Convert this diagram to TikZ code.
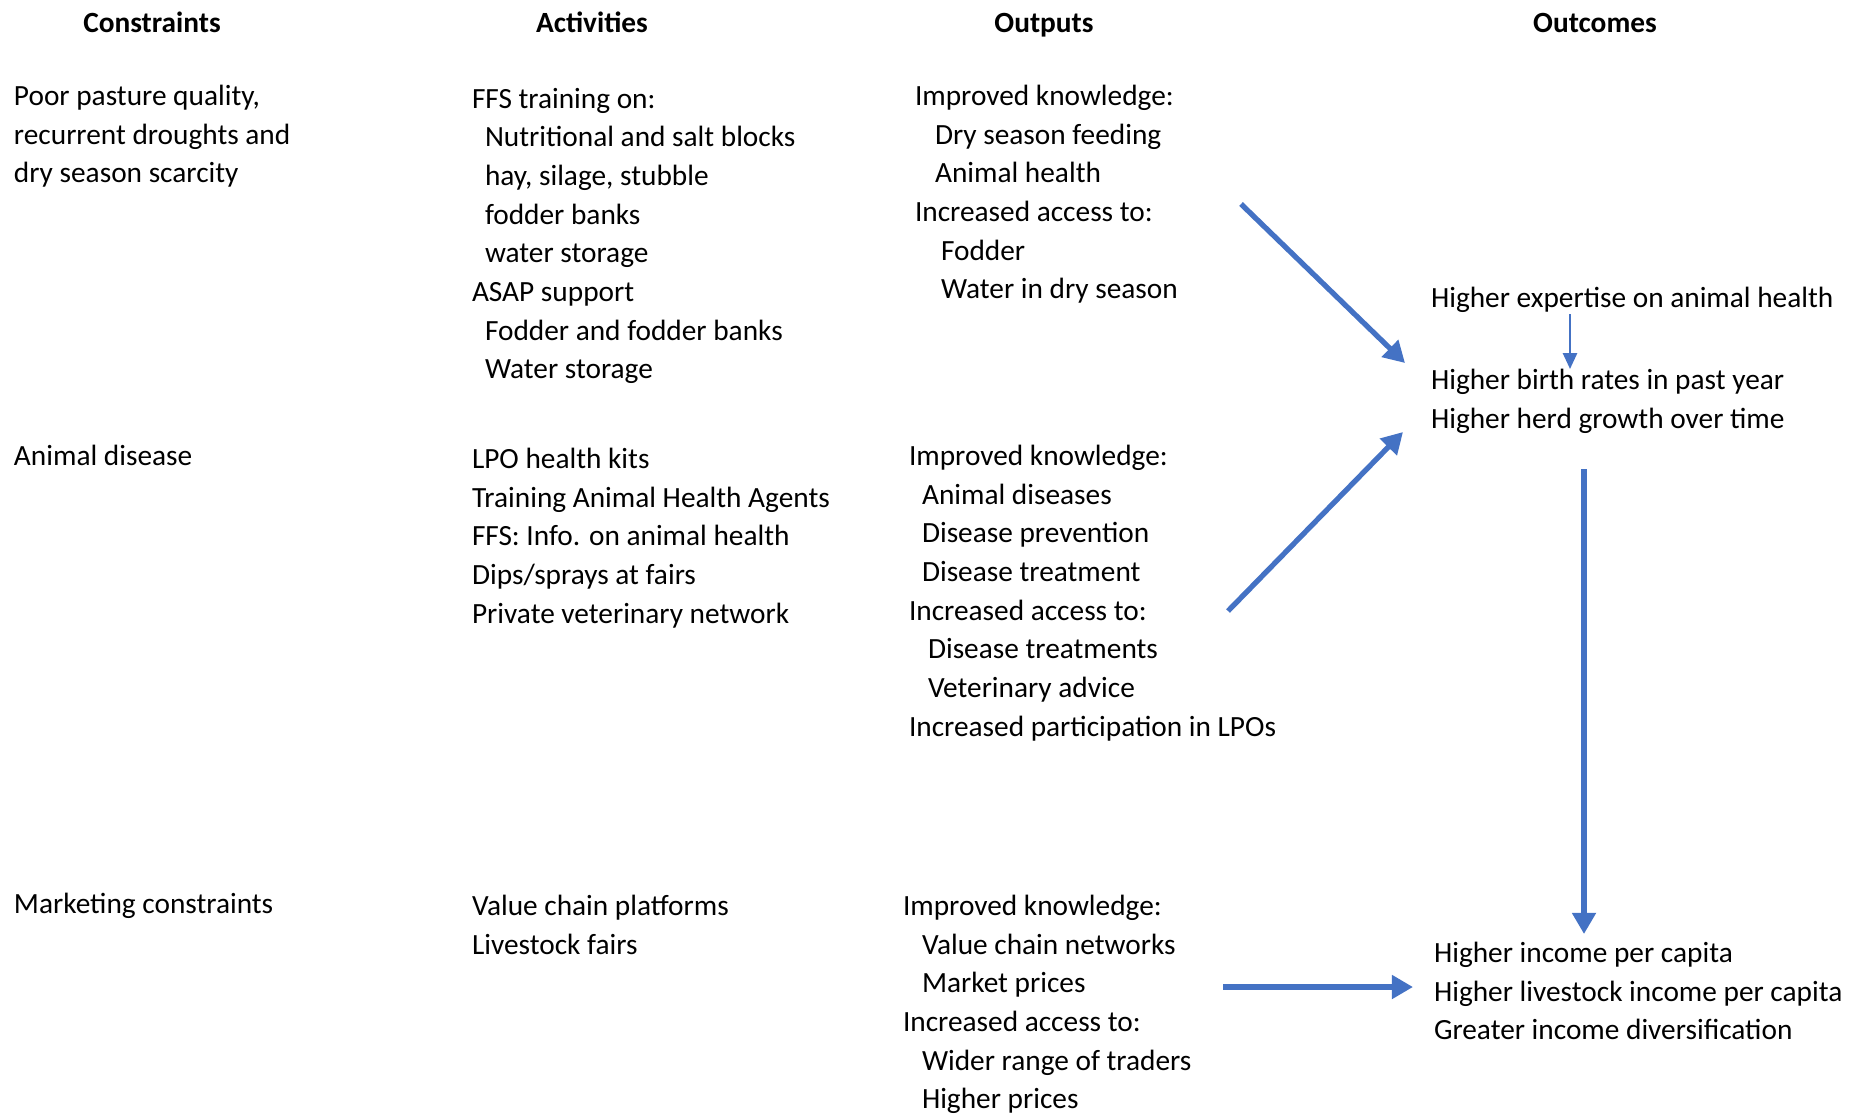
\documentclass[tikz,border=0pt]{standalone}
\usepackage{fontspec}
\setmainfont{Carlito}
\usetikzlibrary{arrows.meta}
\definecolor{flowblue}{HTML}{4472C4}
\newcommand{\indnt}[1]{\hspace*{#1pt}}

\begin{document}
\begin{tikzpicture}[x=0.01cm,y=-0.01cm,
        every node/.style={inner sep=0pt,outer sep=0pt,font=\fontsize{8.34}{11}\selectfont},
        colhead/.style={anchor=base,font=\fontsize{8.34}{11}\selectfont\bfseries},
        block/.style={anchor=north west,align=left,execute at begin node=\strut},
        flow/.style={draw=flowblue,line width=1.5pt,-{Triangle[length=6pt,width=6.5pt]}},
        thinflow/.style={draw=flowblue,line width=0.6pt,-{Triangle[length=4.5pt,width=4pt]}}]
        \useasboundingbox (0,0) rectangle (1858,1115);

        % column heads
        \node[colhead] (hcon) at (152,32) {Constraints};
        \node[colhead] (hact) at (592,32) {Activities};
        \node[colhead] (hout) at (1044,32) {Outputs};
        \node[colhead] (hres) at (1595,32) {Outcomes};

        % constraints
        \node[block] (con1) at (14,85) {Poor pasture quality,\\recurrent droughts and\\dry season scarcity};
        \node[block] (con2) at (14,438) {Animal disease};
        \node[block] (con3) at (14,886) {Marketing constraints};

        % activities
        \node[block] (act1) at (472,88) {FFS training on:\\\indnt{3.7}Nutritional and salt blocks\\\indnt{3.7}hay, silage, stubble\\\indnt{3.7}fodder banks\\\indnt{3.7}water storage\\ASAP support\\\indnt{3.7}Fodder and fodder banks\\\indnt{3.7}Water storage};
        \node[block] (act2) at (472,448) {LPO health kits\\Training Animal Health Agents\\FFS: Info. on animal health\\Dips/sprays at fairs\\Private veterinary network};
        \node[block] (act3) at (472,895) {Value chain platforms\\Livestock fairs};

        % outputs
        \node[block] (out1) at (915,85) {Improved knowledge:\\\indnt{5.7}Dry season feeding\\\indnt{5.7}Animal health\\Increased access to:\\\indnt{7.4}Fodder\\\indnt{7.4}Water in dry season};
        \node[block] (out2) at (909,445) {Improved knowledge:\\\indnt{3.7}Animal diseases\\\indnt{3.7}Disease prevention\\\indnt{3.7}Disease treatment\\Increased access to:\\\indnt{5.4}Disease treatments\\\indnt{5.4}Veterinary advice\\Increased participation in LPOs};
        \node[block] (out3) at (903,895) {Improved knowledge:\\\indnt{5.4}Value chain networks\\\indnt{5.4}Market prices\\Increased access to:\\\indnt{5.4}Wider range of traders\\\indnt{5.4}Higher prices};

        % outcomes
        \node[block] (res0) at (1431,280) {Higher expertise on animal health};
        \node[block] (res1) at (1431,369) {Higher birth rates in past year\\Higher herd growth over time};
        \node[block] (res2) at (1434,942) {Higher income per capita\\Higher livestock income per capita\\Greater income diversification};

        % arrow ends
        \coordinate (feedS) at (1241,204);
        \coordinate (feedE) at (1405,363);
        \coordinate (healthS) at (1228,611);
        \coordinate (healthE) at (1403,432);
        \coordinate (expS) at (1570,314);
        \coordinate (expE) at (1570,369);
        \coordinate (herdS) at (1584,469);
        \coordinate (herdE) at (1584,934);
        \coordinate (mktS) at (1223,987);
        \coordinate (mktE) at (1413,987);

        \draw[flow] (feedS) -- (feedE);
        \draw[flow] (healthS) -- (healthE);
        \draw[thinflow] (expS) -- (expE);
        \draw[flow] (herdS) -- (herdE);
        \draw[flow] (mktS) -- (mktE);
    \end{tikzpicture}
\end{document}
